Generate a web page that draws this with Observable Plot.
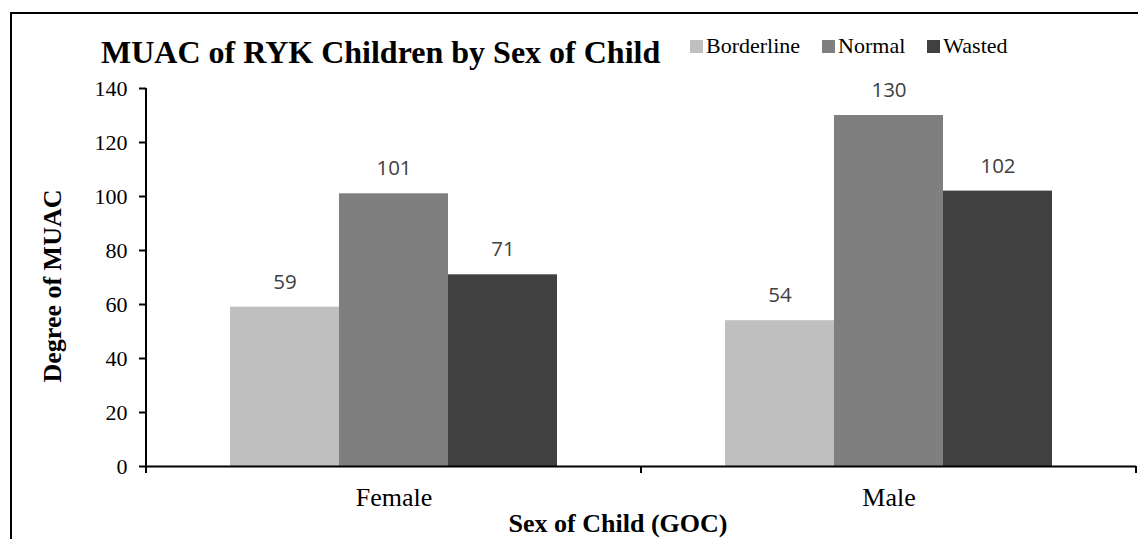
<!DOCTYPE html>
<html><head><meta charset="utf-8">
<script src="https://cdn.jsdelivr.net/npm/d3@7"></script>
<script src="https://cdn.jsdelivr.net/npm/@observablehq/plot@0.6"></script>
<style>
html,body{margin:0;padding:0;background:#fff;overflow:hidden;width:1138px;height:539px}
#wrap{position:relative;width:1138px;height:539px}
#frame{position:absolute;left:10px;top:12px;width:1200px;height:600px;border:2.5px solid #000;box-sizing:border-box;pointer-events:none}
#title{position:absolute;left:101px;top:36px;font:bold 32px "Liberation Serif",serif;line-height:1;white-space:nowrap;color:#000}
#legend{position:absolute;left:690px;top:35px;display:flex;align-items:baseline;font:22px "Liberation Serif",serif;line-height:1;color:#000}
.item{display:flex;align-items:baseline;margin-right:22px}
.sw{width:13px;height:13px;margin-right:3px}
#chart{position:absolute;left:0;top:70px}
</style></head>
<body>
<div id="wrap">
  <div id="title">MUAC of RYK Children by Sex of Child</div>
  <div id="legend"></div>
  <div id="chart"></div>
  <div id="frame"></div>
</div>
<script>
const sexes = ["Female", "Male"];
const statuses = ["Borderline", "Normal", "Wasted"];
const borderline = [59, 54];
const normal = [101, 130];
const wasted = [71, 102];
const colors = ["#bfbfbf", "#7f7f7f", "#404040"];
const yTicks = [0, 20, 40, 60, 80, 100, 120, 140];
const xTitle = "Sex of Child (GOC)";
const yTitle = "Degree of MUAC";

const series = [borderline, normal, wasted];
const rows = [];
sexes.forEach((s, i) => statuses.forEach((st, j) => rows.push({sex: s, status: st, value: series[j][i]})));

// legend
const legend = d3.select("#legend");
statuses.forEach((st, j) => {
  const it = legend.append("div").attr("class", "item");
  it.append("div").attr("class", "sw").style("background", colors[j]);
  it.append("span").text(st);
});

const chart = Plot.plot({
  width: 1138, height: 469,
  marginTop: 18, marginBottom: 73, marginLeft: 145, marginRight: 2,
  style: {fontFamily: '"Liberation Serif", serif', fontSize: "22px", color: "#000", background: "transparent", overflow: "visible"},
  fx: {domain: sexes, padding: 0, label: null},
  x: {domain: statuses, paddingInner: 0, paddingOuter: 0.752, axis: null},
  y: {domain: [0, 140], label: null},
  color: {domain: statuses, range: colors},
  marks: [
    Plot.barY(rows, {fx: "sex", x: "status", y: "value", fill: "status"}),
    Plot.ruleY([0], {stroke: "#000", strokeWidth: 2}),
    Plot.text(rows, {fx: "sex", x: "status", y: "value", text: d => String(d.value), dy: -25,
      fill: "#404040", fontFamily: '"Open Sans", sans-serif', fontSize: 20.5}),
    Plot.axisY(yTicks, {tickSize: 7, tickPadding: 12, label: null, strokeWidth: 2, fontSize: 22}),
    Plot.axisFx({anchor: "bottom", tickSize: 0, tickPadding: 21, fontSize: 26, label: null})
  ]
});
document.getElementById("chart").appendChild(chart);

// axis decorations derived from the library's scales
const svg = d3.select(chart);
const fx = chart.scale("fx"), y = chart.scale("y");
const xa = fx.apply(sexes[0]);
const xb = fx.apply(sexes[1]);
const xe = xb + fx.bandwidth;
const y0 = y.apply(0), yTop = y.apply(140);
const g = svg.append("g").attr("stroke", "#000").attr("stroke-width", 2);
g.append("line").attr("x1", xa).attr("x2", xa).attr("y1", yTop).attr("y2", y0 + 1);
[xa, xb, xe].forEach(x => g.append("line").attr("x1", x).attr("x2", x).attr("y1", y0).attr("y2", y0 + 7));

svg.append("text").attr("x", (xa + xe) / 2 - 23).attr("y", y0 + 66)
  .attr("text-anchor", "middle").attr("font-weight", "bold").attr("font-size", 26)
  .attr("font-family", '"Liberation Serif", serif').attr("fill", "#000").text(xTitle);
svg.append("text").attr("transform", `translate(61,${(yTop + y0) / 2 + 9}) rotate(-90)`)
  .attr("text-anchor", "middle").attr("font-weight", "bold").attr("font-size", 26)
  .attr("font-family", '"Liberation Serif", serif').attr("fill", "#000").text(yTitle);
</script>
</body></html>
